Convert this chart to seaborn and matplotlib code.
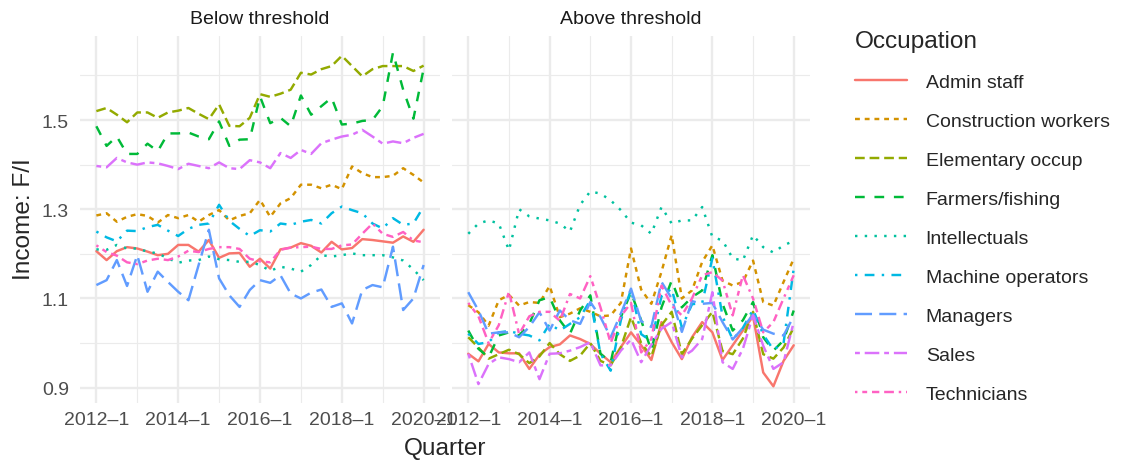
import matplotlib
matplotlib.use("Agg")
import matplotlib.pyplot as plt
from matplotlib.lines import Line2D
import pandas as pd
import seaborn as sns

# ---- data -------------------------------------------------------------
quarters = [f"{y}-{q}" for y in range(2012, 2021) for q in range(1, 5)][:33]
tick_quarters = ["2012-1", "2014-1", "2016-1", "2018-1", "2020-1"]
tick_labels = ["2012\u20131", "2014\u20131", "2016\u20131", "2018\u20131", "2020\u20131"]

groups = ["Below threshold", "Above threshold"]
occupations = ["Admin staff", "Construction workers", "Elementary occup",
               "Farmers/fishing", "Intellectuals", "Machine operators",
               "Managers", "Sales", "Technicians"]

# Below threshold
admin_b = [1.206, 1.186, 1.206, 1.215, 1.212, 1.205, 1.197, 1.200, 1.220, 1.220, 1.205,
           1.231, 1.191, 1.201, 1.202, 1.171, 1.189, 1.167, 1.210, 1.214, 1.224, 1.218,
           1.203, 1.227, 1.210, 1.213, 1.233, 1.231, 1.228, 1.225, 1.239, 1.227, 1.254]
constr_b = [1.286, 1.291, 1.272, 1.283, 1.289, 1.285, 1.270, 1.287, 1.280, 1.287, 1.272,
            1.287, 1.298, 1.275, 1.285, 1.291, 1.321, 1.283, 1.313, 1.325, 1.355, 1.355,
            1.347, 1.355, 1.345, 1.396, 1.381, 1.372, 1.372, 1.375, 1.392, 1.377, 1.360]
elem_b = [1.520, 1.527, 1.512, 1.495, 1.517, 1.517, 1.505, 1.517, 1.521, 1.527, 1.514,
          1.502, 1.535, 1.487, 1.486, 1.505, 1.558, 1.552, 1.559, 1.568, 1.606, 1.602,
          1.614, 1.621, 1.644, 1.621, 1.598, 1.614, 1.621, 1.621, 1.621, 1.610, 1.622]
farm_b = [1.486, 1.442, 1.463, 1.424, 1.424, 1.447, 1.430, 1.470, 1.470, 1.472, 1.463,
          1.457, 1.497, 1.442, 1.456, 1.457, 1.553, 1.493, 1.505, 1.486, 1.555, 1.512,
          1.531, 1.550, 1.490, 1.492, 1.498, 1.500, 1.531, 1.651, 1.568, 1.503, 1.615]
intel_b = [1.210, 1.209, 1.220, 1.212, 1.212, 1.205, 1.201, 1.190, 1.180, 1.185, 1.186,
           1.194, 1.188, 1.186, 1.182, 1.182, 1.175, 1.162, 1.171, 1.167, 1.160, 1.175,
           1.197, 1.194, 1.197, 1.201, 1.197, 1.197, 1.197, 1.192, 1.185, 1.165, 1.141]
mach_b = [1.250, 1.237, 1.228, 1.252, 1.251, 1.260, 1.265, 1.252, 1.240, 1.256, 1.265,
          1.268, 1.310, 1.274, 1.256, 1.240, 1.253, 1.250, 1.268, 1.265, 1.272, 1.276,
          1.268, 1.291, 1.306, 1.298, 1.291, 1.268, 1.257, 1.280, 1.265, 1.268, 1.306]
mgr_b = [1.130, 1.141, 1.186, 1.128, 1.197, 1.115, 1.160, 1.137, 1.115, 1.096, 1.175,
         1.254, 1.145, 1.107, 1.081, 1.119, 1.141, 1.135, 1.152, 1.111, 1.100, 1.113,
         1.120, 1.081, 1.089, 1.044, 1.119, 1.130, 1.125, 1.216, 1.074, 1.100, 1.175]
sales_b = [1.397, 1.394, 1.415, 1.405, 1.400, 1.405, 1.403, 1.397, 1.390, 1.402, 1.397,
           1.392, 1.405, 1.392, 1.390, 1.410, 1.405, 1.392, 1.426, 1.415, 1.433, 1.424,
           1.448, 1.456, 1.463, 1.467, 1.478, 1.463, 1.447, 1.452, 1.448, 1.460, 1.469]
tech_b = [1.219, 1.204, 1.196, 1.181, 1.177, 1.185, 1.189, 1.186, 1.194, 1.207, 1.204,
          1.211, 1.215, 1.215, 1.211, 1.189, 1.183, 1.181, 1.209, 1.214, 1.215, 1.216,
          1.211, 1.211, 1.219, 1.221, 1.245, 1.268, 1.245, 1.238, 1.249, 1.230, 1.226]

# Above threshold
admin_a = [0.976, 0.959, 0.998, 0.979, 0.977, 0.977, 0.942, 0.974, 0.991, 0.997, 1.017,
           1.009, 0.998, 0.976, 0.957, 0.991, 1.024, 0.995, 0.962, 1.047, 1.002, 0.964,
           1.013, 1.047, 1.024, 0.962, 0.995, 1.028, 1.060, 0.934, 0.903, 0.960, 0.995]
constr_a = [1.085, 1.069, 1.039, 1.096, 1.108, 1.084, 1.092, 1.090, 1.128, 1.058, 1.066,
            1.078, 1.070, 1.060, 1.062, 1.090, 1.212, 1.120, 1.088, 1.160, 1.242, 1.100,
            1.118, 1.182, 1.219, 1.140, 1.129, 1.137, 1.185, 1.092, 1.084, 1.137, 1.189]
elem_a = [1.013, 0.990, 0.965, 0.975, 0.985, 0.975, 0.955, 0.970, 1.000, 0.975, 0.960,
          0.972, 1.000, 0.960, 0.950, 0.990, 1.058, 1.000, 0.970, 1.040, 1.070, 0.975,
          1.010, 1.040, 1.070, 0.982, 0.975, 1.010, 1.070, 0.975, 0.965, 0.990, 1.035]
farm_a = [1.028, 0.987, 0.968, 1.017, 1.024, 1.017, 1.043, 1.096, 1.103, 1.051, 1.021,
          1.073, 1.107, 0.976, 0.957, 1.058, 1.114, 1.051, 0.983, 1.080, 1.140, 1.080,
          1.103, 1.118, 1.197, 1.088, 1.028, 1.051, 1.092, 1.013, 0.983, 1.006, 1.073]
intel_a = [1.245, 1.268, 1.275, 1.268, 1.208, 1.300, 1.284, 1.279, 1.275, 1.268, 1.250,
           1.310, 1.340, 1.335, 1.320, 1.298, 1.270, 1.264, 1.245, 1.305, 1.268, 1.275,
           1.275, 1.305, 1.238, 1.230, 1.190, 1.185, 1.242, 1.215, 1.203, 1.219, 1.229]
mach_a = [1.021, 0.998, 1.002, 1.024, 1.027, 1.021, 1.017, 1.006, 1.043, 1.028, 1.043,
          1.058, 1.096, 0.976, 0.938, 1.051, 1.120, 1.020, 1.004, 1.105, 1.122, 1.035,
          1.087, 1.090, 1.190, 1.060, 1.008, 1.034, 1.075, 1.019, 0.985, 1.000, 1.167]
mgr_a = [1.114, 1.073, 1.021, 1.024, 1.024, 1.013, 1.036, 1.069, 1.028, 1.073, 1.051,
         1.043, 1.092, 1.058, 1.013, 1.066, 1.122, 1.049, 1.036, 1.137, 1.100, 1.025,
         1.094, 1.088, 1.090, 1.047, 1.008, 1.034, 1.064, 1.030, 1.021, 1.017, 1.060]
sales_a = [0.976, 0.908, 0.953, 0.968, 0.964, 0.957, 0.979, 0.919, 0.976, 0.977, 0.983,
           0.991, 1.002, 0.950, 0.950, 0.983, 1.008, 0.957, 0.996, 1.032, 1.047, 0.968,
           0.983, 1.009, 1.114, 0.957, 0.942, 0.987, 1.062, 0.994, 0.942, 0.957, 1.047]
tech_a = [1.090, 1.060, 1.000, 1.040, 1.115, 1.020, 1.060, 1.070, 1.070, 1.050, 1.110,
          1.100, 1.150, 1.080, 1.000, 1.060, 1.090, 0.979, 1.009, 1.129, 1.084, 1.062,
          1.100, 1.152, 1.159, 1.140, 1.062, 1.152, 1.100, 1.024, 1.047, 1.100, 1.152]

below = [admin_b, constr_b, elem_b, farm_b, intel_b, mach_b, mgr_b, sales_b, tech_b]
above = [admin_a, constr_a, elem_a, farm_a, intel_a, mach_a, mgr_a, sales_a, tech_a]

# ---- styling ------------------------------------------------------------
colors = ["#F8766D", "#D39200", "#93AA00", "#00BA38", "#00C19F",
          "#00B9E3", "#619CFF", "#DB72FB", "#FF61C3"]
dash_patterns = ["", (2, 2), (4, 2), (4, 4), (1, 3), (1, 3, 4, 3),
                 (7, 3), (2, 2, 6, 2), (1, 2, 2, 2, 3, 2, 4, 2)]
palette = dict(zip(occupations, colors))
dashes = dict(zip(occupations, dash_patterns))

# ---- long table -----------------------------------------------------------
rows = []
for group, series in zip(groups, [below, above]):
    for occ, vals in zip(occupations, series):
        for t, (q, v) in enumerate(zip(quarters, vals)):
            rows.append({"Group": group, "Occupation": occ, "t": t,
                         "Quarter": q, "Income": v})
df = pd.DataFrame(rows)

sns.set_theme(style="white")
plt.rcParams["font.family"] = ["Liberation Sans", "DejaVu Sans"]

W, H = 1121, 464
fig = plt.figure(figsize=(W / 100, H / 100), dpi=100)
ax_l = fig.add_axes([80 / W, 60 / H, 360 / W, 367 / H])
ax_r = fig.add_axes([452 / W, 60 / H, 358 / W, 367 / H], sharey=ax_l)

LW = 1.75
grid_col = "#EBEBEB"
ymin, ymax = df["Income"].min(), df["Income"].max()
ypad = 0.05 * (ymax - ymin)
n = len(quarters)
xpad = 0.05 * (n - 1)
tick_pos = [quarters.index(q) for q in tick_quarters]
minor_pos = [(a + b) / 2 for a, b in zip(tick_pos[:-1], tick_pos[1:])]

for ax, group in zip([ax_l, ax_r], groups):
    sns.lineplot(data=df[df["Group"] == group], x="t", y="Income",
                 hue="Occupation", style="Occupation",
                 hue_order=occupations, style_order=occupations,
                 palette=palette, dashes=dashes, linewidth=LW,
                 legend=False, ax=ax)
    ax.set_xlim(-xpad, n - 1 + xpad)
    ax.set_ylim(ymin - ypad, ymax + ypad)
    ax.set_xticks(tick_pos)
    ax.set_xticklabels(tick_labels)
    ax.set_xticks(minor_pos, minor=True)
    ax.set_yticks([0.9, 1.1, 1.3, 1.5])
    ax.set_yticklabels(["0.9", "1.1", "1.3", "1.5"])
    ax.set_yticks([1.0, 1.2, 1.4, 1.6], minor=True)
    ax.grid(which="major", color=grid_col, linewidth=1.7)
    ax.grid(which="minor", color=grid_col, linewidth=0.85)
    ax.set_axisbelow(True)
    for s in ax.spines.values():
        s.set_visible(False)
    ax.tick_params(which="both", length=0, labelsize=14, labelcolor="#4D4D4D")
    ax.tick_params(axis="x", pad=6)
    ax.tick_params(axis="y", pad=8)
    ax.set_xlabel("")
    ax.set_ylabel("")
    ax.set_title(group, fontsize=14, color="#1A1A1A", pad=9)

ax_r.tick_params(axis="y", labelleft=False)

fig.text(445 / W, 1 - 449 / H, "Quarter", fontsize=17.6, ha="center", va="center")
fig.text(24 / W, 1 - 219 / H, "Income: F/I", fontsize=17.6, rotation=90,
         ha="center", va="center")

handles = []
for occ in occupations:
    d = dashes[occ]
    ls = "-" if d == "" else (0, d)
    handles.append(Line2D([], [], color=palette[occ], linewidth=LW, linestyle=ls))

fig.legend(handles, occupations, loc="upper left",
           bbox_to_anchor=(839 / W, 1 - 15 / H), frameon=False,
           fontsize=14, title="Occupation", title_fontsize=17.6,
           alignment="left", handlelength=2.68, handletextpad=0.98,
           labelspacing=1.1, borderpad=0.3)

fig.savefig("out.png", dpi=100)
